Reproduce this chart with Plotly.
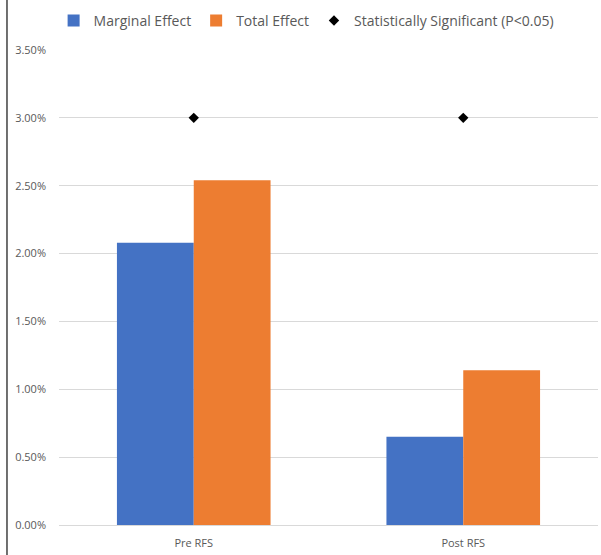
import plotly.graph_objects as go

categories = ["Pre RFS", "Post RFS"]
marginal_effect = [0.0208, 0.0065]
total_effect = [0.0254, 0.0114]
significant = [0.03, 0.03]
y_ticks = [0, 0.005, 0.01, 0.015, 0.02, 0.025, 0.03, 0.035]

fig = go.Figure()
fig.add_trace(go.Bar(x=categories, y=marginal_effect, name="Marginal Effect",
                     marker=dict(color="#4472C4", line=dict(width=0))))
fig.add_trace(go.Bar(x=categories, y=total_effect, name="Total Effect",
                     marker=dict(color="#ED7D31", line=dict(width=0))))
fig.add_trace(go.Scatter(x=categories, y=significant, mode="markers",
                         name="Statistically Significant (P<0.05)",
                         marker=dict(symbol="diamond", size=8, color="black")))

fig.update_layout(
    width=601, height=555,
    margin=dict(l=59, r=3, t=50, b=30, autoexpand=False),
    paper_bgcolor="white", plot_bgcolor="white",
    font=dict(family="Open Sans, Liberation Sans, sans-serif", color="#595959"),
    barmode="group", bargap=0.43, bargroupgap=0,
    showlegend=True,
    legend=dict(orientation="h", x=-0.01, xanchor="left", y=1.095, yanchor="top",
                xref="paper", yref="paper",
                font=dict(size=14, color="#595959"), itemwidth=30,
                traceorder="normal", bgcolor="rgba(0,0,0,0)"),
    xaxis=dict(showgrid=False, showline=False, ticks="", tickfont=dict(size=11, color="#595959")),
    yaxis=dict(range=[0, 0.035], tickvals=y_ticks, tickformat=".2%",
               showgrid=True, gridcolor="#D9D9D9", gridwidth=1,
               zeroline=True, zerolinecolor="#D9D9D9", zerolinewidth=1,
               showline=False, ticks="", ticklen=0,
               tickfont=dict(size=11, color="#595959")),
    shapes=[dict(type="line", xref="paper", yref="paper", x0=-0.0965, x1=-0.0965,
                 y0=-0.07, y1=1.12, line=dict(color="#404040", width=1.5))],
)
fig.update_yaxes(ticklabelstandoff=12)
fig.update_xaxes(ticklabelstandoff=10)

fig.write_html("out.html")
